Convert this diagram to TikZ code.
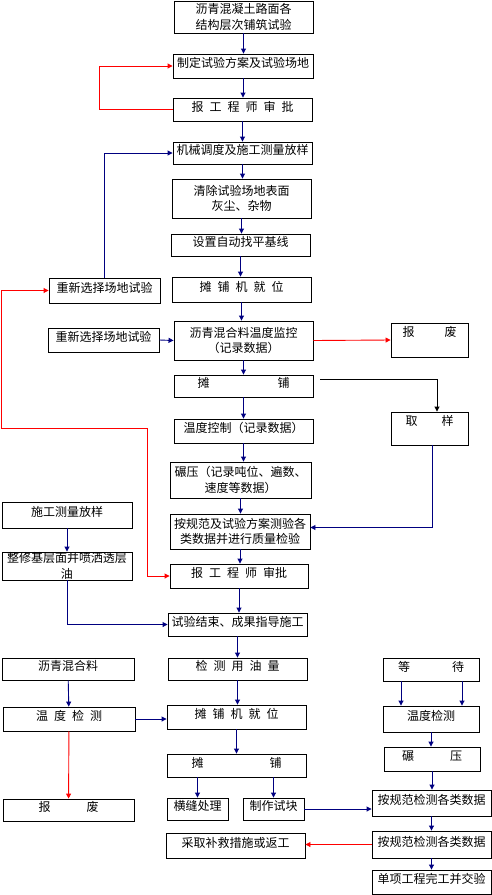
\documentclass[tikz,border=0pt]{standalone}
\usepackage{fontspec}
\setmainfont{Noto Sans CJK SC}
\usetikzlibrary{arrows.meta}
\definecolor{lnblue}{RGB}{0,0,128}
\newcommand{\kk}{\hspace{6pt}}
\tikzset{bx/.style={draw,line width=0.9pt,inner sep=0pt,align=center,text height=10pt,text depth=6.8pt,font=\fontsize{12}{15.5}\selectfont}}
\tikzset{bm/.style={bx,text height=,text depth=}}
\tikzset{sz/.style 2 args={minimum width=#1pt,minimum height=#2pt}}
\tikzset{lb/.style={anchor=north,font=\fontsize{12}{15.5}\selectfont}}
\tikzset{bl/.style={draw=lnblue,line width=0.9pt,-{Triangle[length=5pt,width=5pt]}}}
\tikzset{rd/.style={bl,draw=red}}
\tikzset{bk/.style={bl,draw=black}}

\begin{document}
\begin{tikzpicture}[x=1pt,y=-1pt]
  \useasboundingbox (0,0) rectangle (492,895);
  % middle column
  \node[bm,sz={139}{32}] (B1) at (243.5,17) {沥青混凝土路面各\\结构层次铺筑试验};
  \node[bx,sz={140}{24}] (B2) at (243,66) {制定试验方案及试验场地};
  \node[bx,sz={139}{23}] (B3) at (242.5,109.5) {报\kk 工\kk 程\kk 师\kk 审\kk 批};
  \node[bx,sz={139}{22}] (B4) at (242.5,153) {机械调度及施工测量放样};
  \node[bm,sz={139}{39}] (B5) at (241.5,198.5) {清除试验场地表面\\灰尘、杂物};
  \node[bx,sz={139}{22}] (B6) at (240.5,245) {设置自动找平基线};
  \node[bx,sz={139}{25}] (B7) at (241.5,289.5) {摊\kk 铺\kk 机\kk 就\kk 位};
  \node[bm,sz={139}{39}] (B8) at (243.5,340.5) {沥青混合料温度监控\\（记录数据）};
  \node[bx,sz={139}{22}] (B9) at (243.5,386) {摊\hspace{68pt}铺};
  \node[bx,sz={139}{24}] (B10) at (243.5,431) {温度控制（记录数据）};
  \node[bm,sz={141}{36}] (B11) at (240.5,480) {碾压（记录吨位、遍数、\\速度等数据）};
  \node[bm,sz={140}{35}] (B12) at (240,531.5) {按规范及试验方案测验各\\类数据并进行质量检验};
  \node[bx,sz={138}{24}] (B13) at (239,576) {报\kk 工\kk 程\kk 师\kk 审批};
  \node[bx,sz={139}{23}] (B14) at (237.5,624.5) {试验结束、成果指导施工};
  \node[bx,sz={139}{22}] (B15) at (237.5,669) {检\kk 测\kk 用\kk 油\kk 量};
  \node[bx,sz={139}{24}] (B16) at (236.5,717) {摊\kk 铺\kk 机\kk 就\kk 位};
  \node[bx,sz={139}{23}] (B17) at (236.5,765.5) {摊\hspace{66pt}铺};
  \node[bx,sz={61}{22}] (C1) at (197.5,809) {横缝处理};
  \node[bx,sz={61}{22}] (C2) at (273.5,809) {制作试块};
  \node[bx,sz={139}{25}] (F) at (235.5,845.5) {采取补救措施或返工};
  % left side
  \node[bx,sz={111}{25}] (R1) at (104.5,290.5) {重新选择场地试验};
  \node[bx,sz={111}{24}] (R2) at (103.5,340) {重新选择场地试验};
  \node[bx,sz={130}{26}] (L1) at (67,515) {施工测量放样};
  \node[bm,sz={130}{28}] (L2) at (67,566) {整修基层面并喷洒透层\\油};
  \node[bx,sz={132}{22}] (M1) at (68,669) {沥青混合料};
  \node[bx,sz={132}{24}] (M2) at (69,719) {温\kk 度\kk 检\kk 测};
  \node[bx,sz={131}{22}] (M3) at (68.5,810) {报\hspace{36pt}废};
  % right side
  \node[bx,sz={77}{34},label={[lb]north:{报\hspace{30pt}废}}] (S1) at (429.5,340) {};
  \node[bx,sz={77}{33},label={[lb]north:{取\hspace{24pt}样}}] (S2) at (429.5,428.5) {};
  \node[bx,sz={96}{23}] (E1) at (431,669.5) {等\hspace{42pt}待};
  \node[bx,sz={96}{26}] (E2) at (431,719) {温度检测};
  \node[bx,sz={96}{24}] (E3) at (432,759) {碾\hspace{36pt}压};
  \node[bx,sz={119}{26}] (Q1) at (431.5,803) {按规范检测各类数据};
  \node[bx,sz={119}{27}] (Q2) at (431.5,844.5) {按规范检测各类数据};
  \node[bx,sz={119}{24}] (G) at (431.5,882) {单项工程完工并交验};

  % main flow
  \draw[bl] (B1.south) -- (B1.south |- B2.north);
  \draw[bl] (B2.south) -- (B2.south |- B3.north);
  \draw[bl] (B3.south) -- (B3.south |- B4.north);
  \draw[bl] (B4.south) -- (B4.south |- B5.north);
  \draw[bl] (B5.south) -- (B5.south |- B6.north);
  \draw[bl] (B6.south) -- (B6.south |- B7.north);
  \draw[bl] (B7.south) -- (B7.south |- B8.north);
  \draw[bl] (B8.south) -- (B8.south |- B9.north);
  \draw[bl] (B9.south) -- (B9.south |- B10.north);
  \draw[bl] (B10.south) -- (B10.south |- B11.north);
  \draw[bl] (B11.south) -- (B11.south |- B12.north);
  \draw[bl] (B12.south) -- (B12.south |- B13.north);
  \draw[bl] (B13.south) -- (B13.south |- B14.north);
  \draw[bl] (B14.south) -- (B14.south |- B15.north);
  \draw[bl] (B15.south) -- (B15.south |- B16.north);
  \draw[bl] (B16.south) -- (B16.south |- B17.north);
  \draw[bl] (C1.north |- B17.south) -- (C1.north);
  \draw[bl] (C2.north |- B17.south) -- (C2.north);

  % loops back
  \draw[rd] (B3.west) -- ++(-73,0) |- (B2.west);
  \draw[bl] (R1.north) |- (B4.west);
  \coordinate (rj) at (1,428);
  \draw[rd] (rj) |- (R1.west);
  \draw[rd] (rj) -- ++(146,0) |- (B13.west);
  \draw[bl] (R2.east) -- (B8.west);
  \draw[rd] (B8.east) -- (S1.west);
  \coordinate (tq) at ([xshift=7pt,yshift=-5pt]B9.north east);
  \draw[bk] (tq) -| ([xshift=7.5pt]S2.north);
  \draw[bl] ([xshift=2.5pt]S2.south) |- ([yshift=4pt]B12.east);
  \draw[bl] (L1) -- (L2);
  \draw[bl] (L2.south) |- (B14.west);

  % lower part
  \draw[bl] (M1) -- (M2);
  \draw[rd] (M2) -- (M3);
  \draw[bl] (M2.east) -- (M2.east -| B16.west);
  \draw[bl] (C2.east) -- (C2.east -| Q1.west);
  \draw[bl] ([xshift=-30pt]E1.south) -- ([xshift=-30pt]E2.north);
  \draw[bl] ([xshift=31pt]E1.south) -- ([xshift=31pt]E2.north);
  \draw[bl] (E2.south) -- (E2.south |- E3.north);
  \draw[bl] (E3.south) -- (E3.south |- Q1.north);
  \draw[bl] (Q1) -- (Q2);
  \draw[bl] (Q2) -- (G);
  \draw[rd] (Q2.west) -- (Q2.west -| F.east);
\end{tikzpicture}
\end{document}
